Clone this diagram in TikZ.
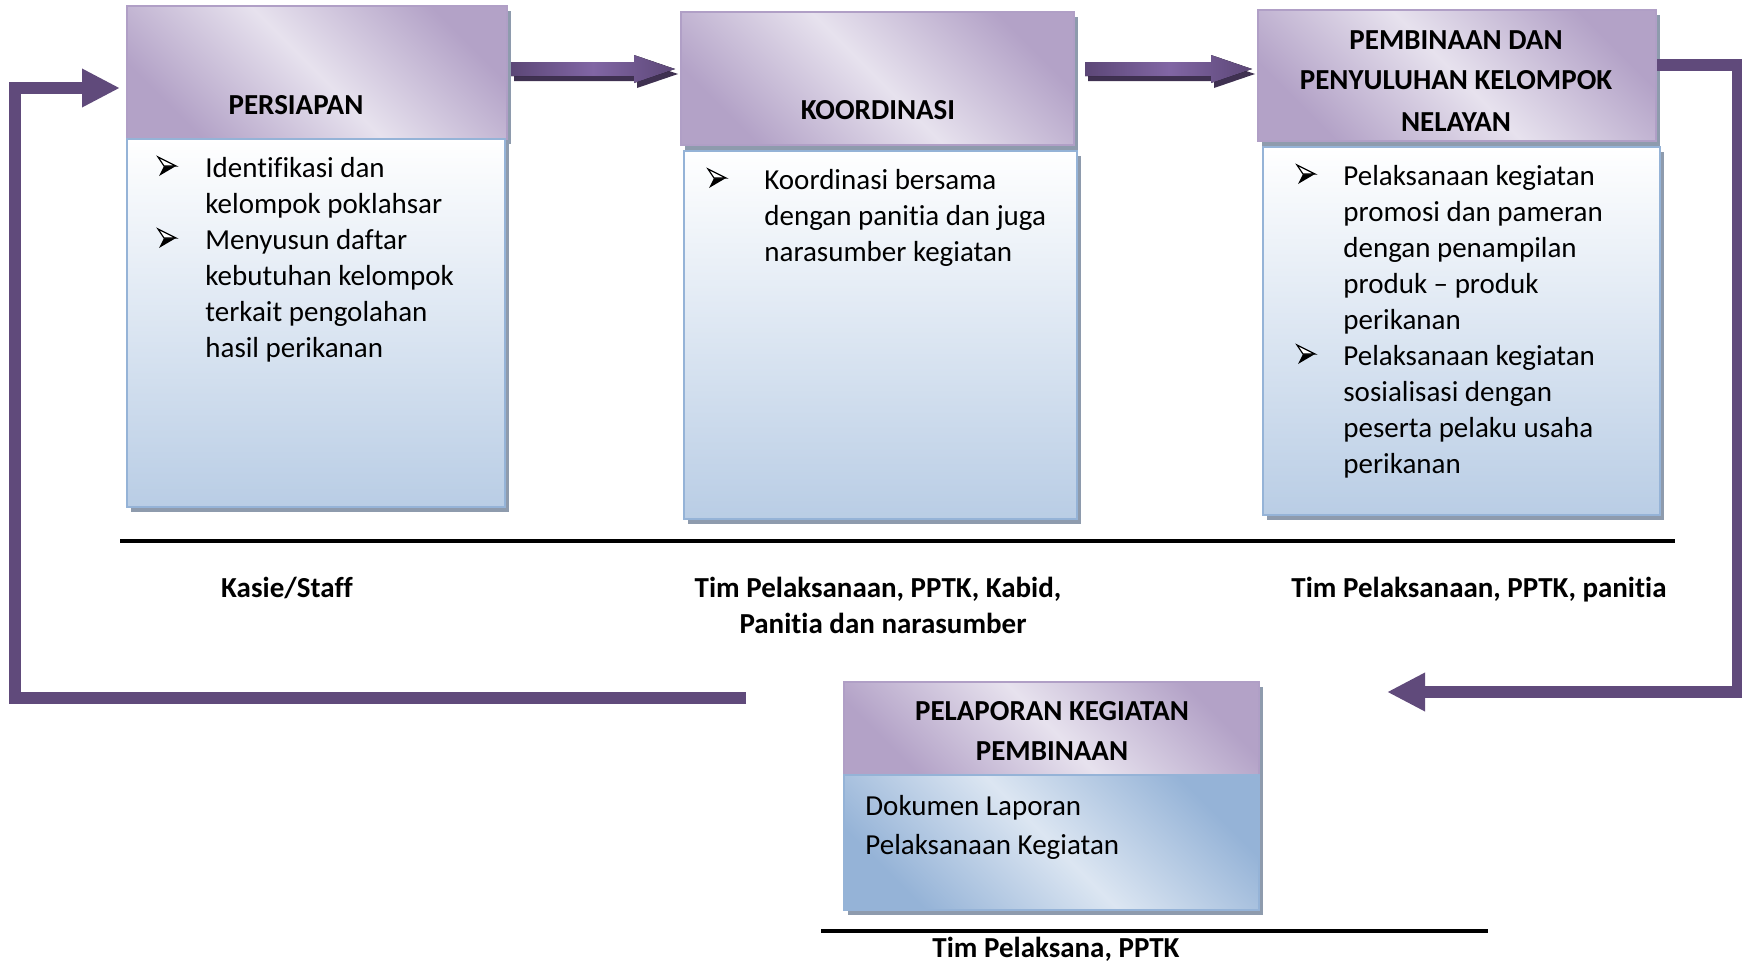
\documentclass[tikz,border=0pt]{standalone}
\usepackage{fontspec}
\setmainfont{Carlito}[Ligatures=NoCommon]
\usetikzlibrary{arrows.meta,calc,shadows}
\definecolor{hdrdark}{HTML}{B3A2C7}
\definecolor{hdrlight}{HTML}{E7E2EE}
\definecolor{hdrborder}{HTML}{B09FC6}
\definecolor{bodybot}{HTML}{B9CDE5}
\definecolor{bodyborder}{HTML}{95B3D7}
\definecolor{bluedark}{HTML}{95B3D7}
\definecolor{bluelight}{HTML}{DCE6F2}
\definecolor{shadowgray}{HTML}{8E9BAD}
\definecolor{loopcol}{HTML}{604A7B}
\definecolor{arrdark}{HTML}{5C4777}
\definecolor{arrlight}{HTML}{8166A4}
\definecolor{arrshadow}{HTML}{3F3151}
\newcommand\blockarr[2]{%
 \fill[arrshadow] ($(#1)+(3,-2)$) -- ($(#2)+(-38,-2)$) -- ($(#2)+(-38,-9)$) -- ($(#2)+(3,5)$) -- ($(#2)+(-38,19)$) -- ($(#2)+(-38,12)$) -- ($(#1)+(3,12)$) -- cycle;
 \fill[arrbody] ($(#1)+(0,-7)$) -- ($(#2)+(-41,-7)$) -- ($(#2)+(-41,-14)$) -- (#2) -- ($(#2)+(-41,14)$) -- ($(#2)+(-41,7)$) -- ($(#1)+(0,7)$) -- cycle;}
\begin{document}
\begin{tikzpicture}[x=0.5pt,y=-0.5pt,
  boxshadow/.style={drop shadow={shadow xshift=2pt,shadow yshift=-2.5pt,fill=shadowgray,opacity=1}},
  hdr/.style={draw=hdrborder,line width=1pt,top color=hdrdark,bottom color=hdrdark,middle color=hdrlight,shading angle=-45,inner sep=0,outer sep=0,anchor=north west,boxshadow},
  bodybox/.style={draw=bodyborder,line width=1.3pt,top color=white,bottom color=bodybot,inner sep=0,outer sep=0,anchor=north west,boxshadow},
  bluebox/.style={draw=bodyborder,line width=1.3pt,top color=bluedark,bottom color=bluedark,middle color=bluelight,shading angle=-45,inner sep=0,outer sep=0,anchor=north west,boxshadow},
  arrbody/.style={left color=arrdark,right color=arrdark,middle color=arrlight},
  txt/.style={anchor=base west,inner sep=0,font=\fontsize{14.5pt}{18pt}\selectfont},
  ttl/.style={anchor=base,inner sep=0,font=\bfseries\fontsize{14.5pt}{18pt}\selectfont},
  loopline/.style={draw=loopcol,line width=6pt,-{Triangle[length=19pt,width=18pt]}},
  rule/.style={draw=black,line width=2pt},
  bul/.pic={\fill[black] (6,0) -- (18,0) -- (1,10) -- cycle;
            \draw[black,line width=0.6pt,fill=white,line join=miter] (0,-9) -- (18,0) -- (6,0) -- cycle;}
]
\useasboundingbox (0,0) rectangle (1742,969);

% ---- boxes ----
\node[hdr,minimum width=190pt,minimum height=66.5pt] (h1) at (127,6) {};
\node[bodybox,minimum width=189pt,minimum height=184pt] (b1) at (127,139) {};
\node[hdr,minimum width=196.5pt,minimum height=66.5pt] (h2) at (681,12) {};
\node[bodybox,minimum width=196.5pt,minimum height=184pt] (b2) at (684,151) {};
\node[hdr,minimum width=199pt,minimum height=65.5pt] (h3) at (1258,10) {};
\node[bodybox,minimum width=198.5pt,minimum height=184pt] (b3) at (1263,147) {};
\node[hdr,minimum width=207.5pt,minimum height=46.5pt] (h4) at (844,682) {};
\node[bluebox,minimum width=207.5pt,minimum height=67.5pt] (b4) at (844,775) {};

% ---- titles ----
\node[ttl] (t1) at (296,114) {PERSIAPAN};
\node[ttl] (t2) at (878,119) {KOORDINASI};
\node[ttl] (t3a) at (1456,49) {PEMBINAAN DAN};
\node[ttl] (t3b) at (1456,90) {PENYULUHAN KELOMPOK};
\node[ttl] (t3c) at (1456,131) {NELAYAN};
\node[ttl] (t4a) at (1052,720) {PELAPORAN KEGIATAN};
\node[ttl] (t4b) at (1052,760) {PEMBINAAN};

% ---- box texts ----
\foreach \t [count=\i from 0] in {Identifikasi dan,kelompok poklahsar,Menyusun daftar,kebutuhan kelompok,terkait pengolahan,hasil perikanan}
  \node[txt] (p1l\i) at (205,{177+36*\i}) {\t};
\pic at (158,166) {bul};
\pic at (158,238) {bul};

\foreach \t [count=\i from 0] in {Koordinasi bersama,dengan panitia dan juga,narasumber kegiatan}
  \node[txt] (p2l\i) at (764,{189+36*\i}) {\t};
\pic at (708,178) {bul};

\foreach \t [count=\i from 0] in {Pelaksanaan kegiatan,promosi dan pameran,dengan penampilan,produk – produk,perikanan,Pelaksanaan kegiatan,sosialisasi dengan,peserta pelaku usaha,perikanan}
  \node[txt] (p3l\i) at (1343,{185+36*\i}) {\t};
\pic at (1297,174) {bul};
\pic at (1297,354) {bul};

\node[txt] (p4l0) at (865,815) {Dokumen Laporan};
\node[txt] (p4l1) at (865,854) {Pelaksanaan Kegiatan};

% ---- rules and labels ----
\coordinate (r1a) at (120,540.5); \coordinate (r1b) at (1675,540.5);
\draw[rule] (r1a) -- (r1b);
\coordinate (r2a) at (821,931); \coordinate (r2b) at (1488,931);
\draw[rule] (r2a) -- (r2b);
\node[ttl] (l1) at (287,597) {Kasie/Staff};
\node[ttl] (l2a) at (878,597) {Tim Pelaksanaan, PPTK, Kabid,};
\node[ttl] (l2b) at (883,633) {Panitia dan narasumber};
\node[ttl] (l3) at (1479,597) {Tim Pelaksanaan, PPTK, panitia};
\node[ttl] (l4) at (1056,957) {Tim Pelaksana, PPTK};

% ---- block arrows ----
\coordinate (a1s) at (511,69); \coordinate (a1e) at (675,69);
\coordinate (a2s) at (1085,69); \coordinate (a2e) at (1252,69);
\blockarr{a1s}{a1e}
\blockarr{a2s}{a2e}

% ---- loop connectors ----
\coordinate (rS) at (1657,65); \coordinate (rC1) at (1738,65); \coordinate (rC2) at (1738,692); \coordinate (rT) at (1387,692);
\draw[loopline] (rS) -- (rC1) -- (rC2) -- (rT);
\coordinate (lS) at (746,698); \coordinate (lC1) at (15,698); \coordinate (lC2) at (15,88); \coordinate (lT) at (120,88);
\draw[loopline] (lS) -- (lC1) -- (lC2) -- (lT);
\end{tikzpicture}
\end{document}
